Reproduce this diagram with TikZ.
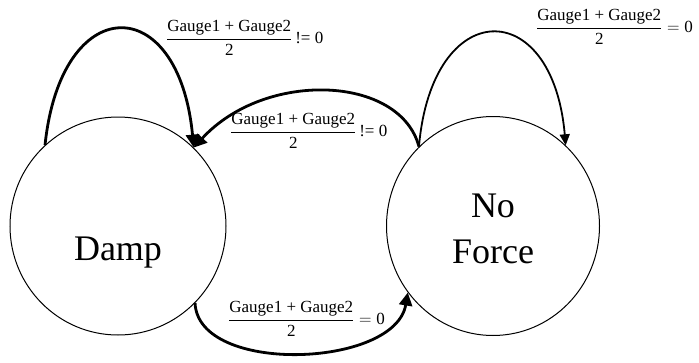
\documentclass[tikz,border=0pt]{standalone}
\usepackage{fontspec}
\setmainfont{Liberation Serif}
\usetikzlibrary{shapes.geometric,arrows.meta}
\newcommand{\gfrac}{\displaystyle\frac{\mbox{Gauge1 + Gauge2}}{\mbox{2}}}
\begin{document}
\begin{tikzpicture}[x=1pt,y=-1pt,
  state/.style={draw,ellipse,line width=1pt,inner sep=0pt},
  stxt/.style={inner sep=0pt,anchor=base,font=\fontsize{36}{47}\selectfont},
  lbl/.style={inner sep=0pt,anchor=west,font=\fontsize{17}{19}\selectfont},
  heavy/.style={line width=2.8pt,-{Triangle[length=13pt,width=13pt]}},
  light/.style={line width=1.8pt,-{Triangle[length=11pt,width=10pt]}}]
\useasboundingbox (0,0) rectangle (699,362);
\node[state,minimum width=216pt,minimum height=218pt] (damp) at (118,226) {};
\node[state,minimum width=213pt,minimum height=219pt] (noforce) at (493,226) {};
\node[stxt] (damptxt) at (118,260) {Damp};
\node[stxt] (notxt) at (493,217) {No};
\node[stxt] (forcetxt) at (493,263) {Force};
% self loop on Damp
\draw[heavy] (damp.132) .. controls +(16,-154) and +(-15,-158) .. (damp.46);
% self loop on No Force
\draw[light] (noforce.133) .. controls +(13,-151) and +(-13,-151) .. (noforce.48);
% No Force -> Damp
\draw[heavy] (noforce.133) .. controls (400,75) and (265,70) .. (damp.46);
% Damp -> No Force
\draw[heavy] (damp.-45) .. controls (198,375) and (395,368) .. (noforce.-142);
% labels
\node[lbl] (l1) at (166,38) {$\gfrac$\,!= 0};
\node[lbl] (l2) at (230,131) {$\gfrac$\,!= 0};
\node[lbl] (l3) at (536,27) {$\gfrac = \mbox{0}$};
\node[lbl] (l4) at (228,319) {$\gfrac = \mbox{0}$};
\end{tikzpicture}
\end{document}
